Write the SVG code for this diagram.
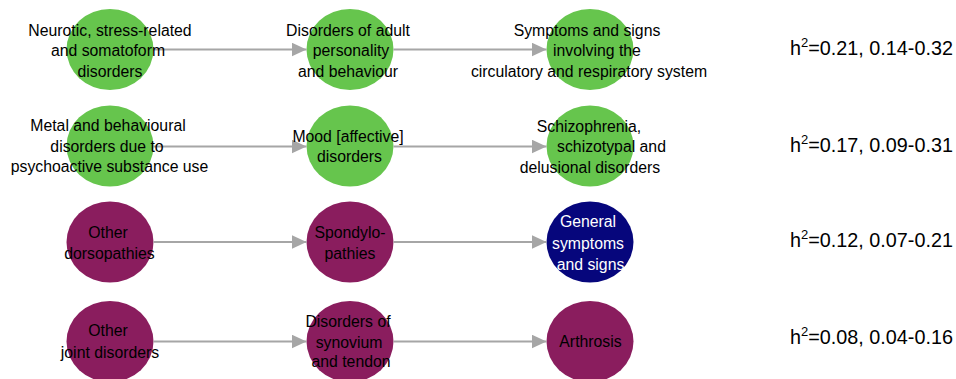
<svg xmlns="http://www.w3.org/2000/svg" width="956" height="379" viewBox="0 0 956 379">
<style>
.g{fill:#66c54d}
.p{fill:#8a1d5e}
.n{fill:#06067c}
text{font-family:"Liberation Sans",Arial,sans-serif;font-size:15.8px;fill:#000;text-anchor:middle}
text.w{fill:#fff}
text.h{font-size:19.8px;text-anchor:start}
.c line{stroke:#a6a6a6;stroke-width:2;marker-end:url(#ah)}
</style>
<defs>
<marker id="ah" markerUnits="userSpaceOnUse" markerWidth="15" markerHeight="14" refX="15" refY="7" orient="auto">
<path d="M0,0 L15,7 L0,14 z" fill="#a6a6a6"/>
</marker>
</defs>
<rect width="956" height="379" fill="#fff"/>
<g id="r1n1"><ellipse class="g" cx="110" cy="49.5" rx="43.5" ry="40.5"/></g>
<g id="r1n2"><ellipse class="g" cx="350" cy="49.5" rx="43.5" ry="40.5"/></g>
<g id="r1n3"><ellipse class="g" cx="590" cy="49.5" rx="43.5" ry="40.5"/></g>
<g id="r2n1"><ellipse class="g" cx="110" cy="146" rx="43.5" ry="40.5"/></g>
<g id="r2n2"><ellipse class="g" cx="350" cy="146" rx="43.5" ry="40.5"/></g>
<g id="r2n3"><ellipse class="g" cx="590" cy="146" rx="43.5" ry="40.5"/></g>
<g id="r3n1"><ellipse class="p" cx="110" cy="242" rx="43.5" ry="40.5"/></g>
<g id="r3n2"><ellipse class="p" cx="350" cy="242" rx="43.5" ry="40.5"/></g>
<g id="r3n3"><ellipse class="n" cx="590" cy="242" rx="43.5" ry="40.5"/></g>
<g id="r4n1"><ellipse class="p" cx="110" cy="341.5" rx="43.5" ry="40.5"/></g>
<g id="r4n2"><ellipse class="p" cx="350" cy="341.5" rx="43.5" ry="40.5"/></g>
<g id="r4n3"><ellipse class="p" cx="590" cy="341.5" rx="43.5" ry="40.5"/></g>
<g class="c" id="connectors">
<line x1="153.5" y1="49.5" x2="306.5" y2="49.5"/>
<line x1="393.5" y1="49.5" x2="546.5" y2="49.5"/>
<line x1="153.5" y1="146.5" x2="306.5" y2="146.5"/>
<line x1="393.5" y1="146.5" x2="546.5" y2="146.5"/>
<line x1="153.5" y1="242" x2="306.5" y2="242"/>
<line x1="393.5" y1="242" x2="546.5" y2="242"/>
<line x1="153.5" y1="341.5" x2="306.5" y2="341.5"/>
<line x1="393.5" y1="341.5" x2="546.5" y2="341.5"/>
</g>
<g id="labels">
<text x="110" y="35.5">Neurotic, stress-related</text>
<text x="108" y="56">and somatoform</text>
<text x="110" y="76.5">disorders</text>
<text x="348" y="35.5">Disorders of adult</text>
<text x="351" y="56">personality</text>
<text x="348" y="76.5">and behaviour</text>
<text x="587" y="35.5">Symptoms and signs</text>
<text x="597" y="56">involving the</text>
<text x="589" y="76.5">circulatory and respiratory system</text>
<text x="108" y="130.5">Metal and behavioural</text>
<text x="107" y="151.5">disorders due to</text>
<text x="109.5" y="172">psychoactive substance use</text>
<text x="348" y="142">Mood [affective]</text>
<text x="349.5" y="162">disorders</text>
<text x="589" y="131.5">Schizophrenia,</text>
<text x="611.5" y="152">schizotypal and</text>
<text x="590" y="173">delusional disorders</text>
<text x="108" y="237.5">Other</text>
<text x="109.5" y="258.5">dorsopathies</text>
<text x="350" y="237.5">Spondylo-</text>
<text x="350" y="258.5">pathies</text>
<text class="w" x="588" y="226.5">General</text>
<text class="w" x="588" y="248.5">symptoms</text>
<text class="w" x="590.5" y="269.5">and signs</text>
<text x="108" y="335.5">Other</text>
<text x="110" y="357.5">joint disorders</text>
<text x="348" y="327">Disorders of</text>
<text x="349" y="348">synovium</text>
<text x="351" y="367">and tendon</text>
<text x="590.5" y="347">Arthrosis</text>
<text class="h" x="790" y="55">h<tspan font-size="13" dy="-8">2</tspan><tspan dy="8">=0.21, 0.14-0.32</tspan></text>
<text class="h" x="790" y="152">h<tspan font-size="13" dy="-8">2</tspan><tspan dy="8">=0.17, 0.09-0.31</tspan></text>
<text class="h" x="790" y="247">h<tspan font-size="13" dy="-8">2</tspan><tspan dy="8">=0.12, 0.07-0.21</tspan></text>
<text class="h" x="790" y="343.5">h<tspan font-size="13" dy="-8">2</tspan><tspan dy="8">=0.08, 0.04-0.16</tspan></text>
</g>
</svg>
